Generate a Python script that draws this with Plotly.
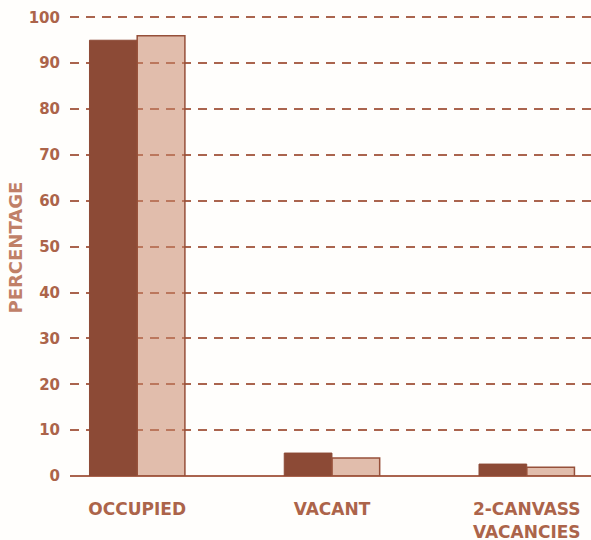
import plotly.graph_objects as go

categories = ["OCCUPIED", "VACANT", "2-CANVASS<br>VACANCIES"]
series_a = [95.0, 5.0, 2.6]
series_b = [96.0, 3.9, 1.9]
y_ticks = [0, 10, 20, 30, 40, 50, 60, 70, 80, 90, 100]

x_pos = list(range(len(categories)))

TEXT = "rgb(172,100,74)"
DARK = "rgb(140,74,54)"
GRID = "rgb(170,100,78)"
FONT = "DejaVu Sans"

fig = go.Figure()
fig.add_trace(go.Bar(
    x=x_pos, y=series_a, name="A",
    marker=dict(color=DARK, line=dict(color=DARK, width=1)),
))
fig.add_trace(go.Bar(
    x=x_pos, y=series_b, name="B",
    marker=dict(color="rgba(200,135,105,0.55)", line=dict(color="rgb(150,80,58)", width=1.5)),
))

fig.update_layout(
    width=591, height=540,
    margin=dict(l=70, r=0, t=15, b=64),
    paper_bgcolor="#fffefc", plot_bgcolor="#fffefc",
    barmode="group", bargap=0.51, bargroupgap=0,
    showlegend=False,
    font=dict(family=FONT, color=TEXT),
    xaxis=dict(
        range=[-0.345, 2.33], automargin=False,
        tickvals=x_pos, ticktext=categories,
        showgrid=False, zeroline=False, showline=False,
        tickfont=dict(size=17, color=TEXT, weight="bold"),
        ticks="outside", ticklen=18, tickcolor="rgba(0,0,0,0)",
    ),
    yaxis=dict(
        range=[0, 100.5], tickvals=y_ticks, automargin=False,
        showgrid=True, gridcolor=GRID, gridwidth=1.5, griddash="9px,7px",
        zeroline=True, zerolinecolor=GRID, zerolinewidth=2,
        showline=False,
        tickfont=dict(size=15, color=TEXT, weight="bold"),
        ticks="outside", ticklen=6, tickcolor="rgba(0,0,0,0)",
    ),
)

fig.add_annotation(
    text="PERCENTAGE", textangle=-90,
    xref="paper", yref="paper", x=0, y=0.5,
    xshift=-55, yshift=-2, xanchor="center", showarrow=False,
    font=dict(size=18, color="rgb(192,128,104)", family=FONT, weight="bold"),
)

fig.write_html(
    "out.html",
    config={"displayModeBar": False},
    post_script="document.body.style.margin='0';document.body.style.padding='0';",
)
